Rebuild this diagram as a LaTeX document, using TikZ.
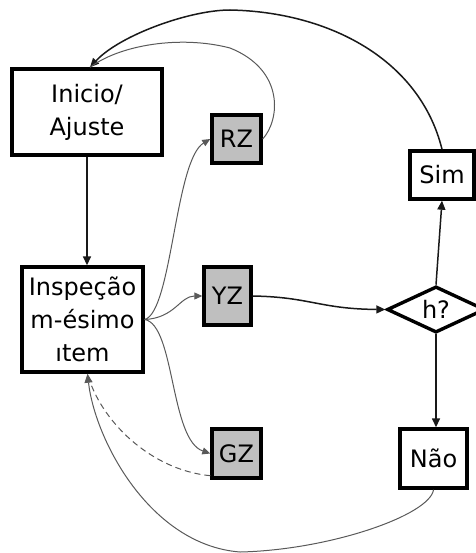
\documentclass[tikz,border=0pt]{standalone}
\usepackage{fontspec}
\setmainfont{DejaVu Sans}
\usetikzlibrary{shapes.geometric,arrows.meta}
\begin{document}
\begin{tikzpicture}[x=1pt,y=-1pt,
  box/.style={draw=black,line width=3.4pt,fill=white,inner sep=0pt,align=center,font=\fontsize{24}{33}\selectfont},
  zone/.style={box,fill=gray!50},
  arr/.style={line width=1.5pt,draw=black!90,-{Triangle[length=9pt,width=8pt]}},
  thin/.style={line width=1pt,draw=black!65},
  thinarr/.style={thin,-{Triangle[length=8pt,width=7pt]}}]
\useasboundingbox (0,0) rectangle (475,553);
\node[box,minimum width=150pt,minimum height=86pt] (ini) at (87,112) {Inicio/\\Ajuste};
\node[box,minimum width=121pt,minimum height=105pt] (insp) at (82.5,319.5) {Inspeção\\m-ésimo\\ıtem};
\node[zone,minimum width=49pt,minimum height=48pt] (rz) at (236.5,139) {RZ};
\node[zone,minimum width=47pt,minimum height=58pt] (yz) at (227.5,296) {YZ};
\node[zone,minimum width=49pt,minimum height=49pt] (gz) at (236.5,453.5) {GZ};
\node[box,minimum width=64pt,minimum height=48pt] (sim) at (442,175) {Sim};
\node[box,minimum width=67pt,minimum height=59pt] (nao) at (433.5,458.5) {Não};
\node[box,shape=diamond,minimum width=98pt,minimum height=45pt] (h) at (436,309.5) {h?};
% connectors
\draw[arr] (ini.south) -- (ini.south |- insp.north);
\draw[thinarr] (insp.east) .. controls (172,312) and (175,160) .. (rz.west);
\draw[thinarr] (insp.east) .. controls (175,318) and (180,296) .. (yz.west);
\draw[thinarr] (insp.east) .. controls (175,325) and (170,440) .. (gz.west);
\draw[thin,dash pattern=on 6pt off 4pt] ([yshift=4pt]gz.south west) .. controls (150,470) and (100,420) .. ([xshift=5pt]insp.south);
\draw[thin,-{Triangle[length=9pt,width=8pt]}] (nao.south) .. controls (430,515) and (330,550) .. (240,552) .. controls (150,545) and (95,440) .. ([xshift=5pt]insp.south);
\draw[arr] (yz.east) .. controls (310,297) and (320,309) .. (h.west);
\draw[arr] (h.north) -- (sim.south);
\draw[arr] (h.south) -- (h.south |- nao.north);
\draw[arr] (sim.north) .. controls (420,60) and (330,12) .. (230,10) .. controls (190,10) and (120,35) .. ([xshift=3pt]ini.north);
\draw[thin] (rz.east) .. controls (280,120) and (285,70) .. (230,48) .. controls (180,35) and (120,45) .. ([xshift=3pt]ini.north);
\end{tikzpicture}
\end{document}
